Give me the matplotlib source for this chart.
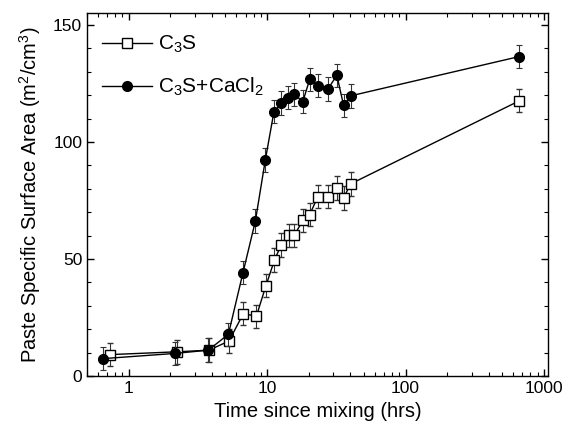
import numpy as np
import matplotlib.pyplot as plt
from matplotlib.lines import Line2D
from matplotlib.ticker import LogLocator, MultipleLocator, FixedLocator, NullFormatter

plt.rcParams['font.family'] = ['Liberation Sans', 'DejaVu Sans']
plt.rcParams['mathtext.fontset'] = 'custom'
plt.rcParams['mathtext.rm'] = 'Liberation Sans'
plt.rcParams['mathtext.it'] = 'Liberation Sans:italic'

# === DATA ===
c3s_t = [0.733, 2.22, 3.8, 5.3, 6.73, 8.36, 9.8, 11.3, 12.66, 14.3, 15.7,
         18.1, 20.3, 23.3, 27.5, 31.9, 35.7, 40.1, 665]
c3s_area = [9.2, 10.4, 11.1, 15.0, 26.7, 25.6, 38.6, 49.6, 56.1, 60.1, 60.1,
            66.5, 69.0, 76.7, 76.7, 80.4, 76.1, 82.1, 117.6]
c3s_err = [5, 5, 5, 5, 5, 5, 5, 5, 5, 5, 5, 5, 5, 5, 5, 5, 5, 5, 5]

cacl_t = [0.656, 2.15, 3.76, 5.25, 6.69, 8.22, 9.7, 11.2, 12.66, 14.2, 15.7,
          18.1, 20.3, 23.3, 27.5, 31.9, 35.7, 40.1, 665]
cacl_area = [7.5, 9.7, 11.1, 17.9, 44.2, 66.2, 92.3, 112.9, 116.6, 119.0, 120.4,
             117.2, 126.7, 124.1, 122.6, 128.5, 115.6, 119.7, 136.5]
cacl_err = [5, 5, 5, 5, 5, 5, 5, 5, 5, 5, 5, 5, 5, 5, 5, 5, 5, 5, 5]

# === PLOT ===
fig = plt.figure(figsize=(5.62, 4.26), dpi=100)
ax = fig.add_axes([0.155, 0.117, 0.82, 0.852])

ax.errorbar(c3s_t, c3s_area, yerr=c3s_err, fmt='-s', color='black',
            mfc='white', mec='black', mew=1.0, ms=6.5, lw=1.0,
            ecolor='#333333', elinewidth=0.8, capsize=2, capthick=0.8, zorder=2)
ax.errorbar(cacl_t, cacl_area, yerr=cacl_err, fmt='-o', color='black',
            mfc='black', mec='black', ms=7, lw=1.0,
            ecolor='#333333', elinewidth=0.8, capsize=2, capthick=0.8, zorder=3)

ax.set_xscale('log')
ax.set_xlim(0.5, 1070)
ax.set_ylim(0, 155)
ax.yaxis.set_major_locator(FixedLocator([0, 50, 100, 150]))
ax.yaxis.set_minor_locator(MultipleLocator(10))
ax.xaxis.set_major_locator(LogLocator(base=10, numticks=10))
ax.xaxis.set_minor_locator(LogLocator(base=10, subs=np.arange(2, 10), numticks=20))
ax.xaxis.set_minor_formatter(NullFormatter())
ax.xaxis.set_major_formatter(plt.FuncFormatter(lambda v, p: '%g' % v))

ax.tick_params(which='both', direction='in', top=True, right=True, labelsize=12.5)
ax.tick_params(which='major', length=5, width=1)
ax.tick_params(which='minor', length=3, width=0.8)
for s in ax.spines.values():
    s.set_linewidth(1.0)

ax.set_xlabel('Time since mixing (hrs)', fontsize=14.5)
ax.set_ylabel('Paste Specific Surface Area (m$^2$/cm$^3$)', fontsize=14.5, labelpad=7)

handles = [Line2D([], [], color='black', lw=1.0, marker='s', mfc='white', mec='black', ms=6.5),
           Line2D([], [], color='black', lw=1.0, marker='o', mfc='black', ms=7)]
ax.legend(handles, ['C$_3$S', 'C$_3$S+CaCl$_2$'], loc='upper left', frameon=False,
          fontsize=15, handlelength=2.4, handletextpad=0.3, labelspacing=1.0,
          borderaxespad=0.3, bbox_to_anchor=(0.0, 0.983))

fig.savefig('out.png', dpi=100)
